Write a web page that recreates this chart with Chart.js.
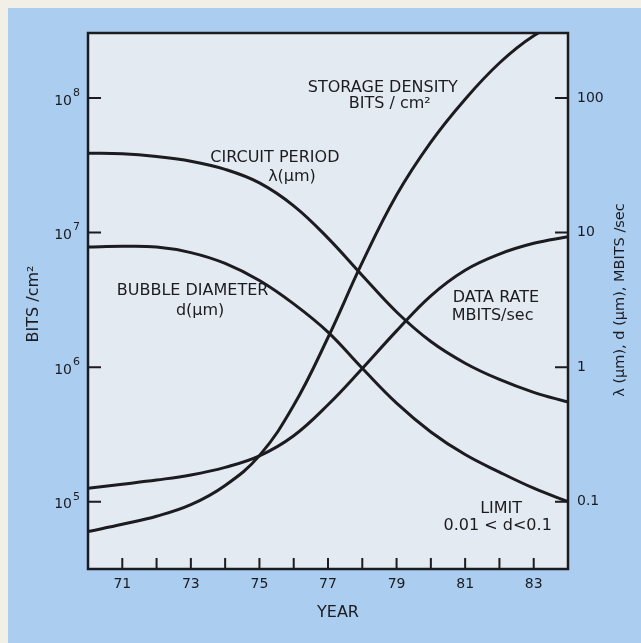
<!DOCTYPE html>
<html>
<head>
<meta charset="utf-8">
<script src="https://cdn.jsdelivr.net/npm/chart.js@4.4.1/dist/chart.umd.min.js"></script>
<style>
  html, body { margin: 0; padding: 0; background: #f2efe6; }
  canvas { display: block; }
</style>
</head>
<body>
<canvas id="chart" width="641" height="643"></canvas>
<script>
// Magnetic bubble memory trends, 1970-1984
const years = [70, 71, 72, 73, 74, 75, 76, 77, 78, 79, 80, 81, 82, 83, 84];

// left axis, bits per cm²
const storageDensity = [6.0e4, 6.8e4, 7.8e4, 9.5e4, 1.32e5, 2.2e5, 5.2e5, 1.66e6, 6.0e6, 1.9e7, 4.7e7, 9.8e7, 1.82e8, 2.9e8, 3.9e8];
// right axis, µm
const circuitPeriod = [38.9, 38.5, 36.7, 33.9, 29.5, 23.4, 15.8, 9.1, 4.8, 2.57, 1.55, 1.07, 0.81, 0.65, 0.55];
const bubbleDiameter = [7.8, 7.9, 7.8, 7.1, 5.9, 4.4, 2.95, 1.82, 0.98, 0.54, 0.33, 0.224, 0.166, 0.126, 0.100];
// right axis, Mbit/s
const dataRate = [0.126, 0.135, 0.145, 0.158, 0.180, 0.219, 0.309, 0.525, 0.977, 1.86, 3.39, 5.25, 6.92, 8.32, 9.33];

const yearTicks = [71, 72, 73, 74, 75, 76, 77, 78, 79, 80, 81, 82, 83];
const yearLabels = [71, 73, 75, 77, 79, 81, 83];
const leftTicks = [1e5, 1e6, 1e7, 1e8];
const leftTickExponents = ['5', '6', '7', '8'];
const rightTicks = [0.1, 1, 10, 100];
const rightTickLabels = ['0.1', '1', '10', '100'];

// curve captions, anchored in (year, bits/cm²)
const captions = [
  { text: 'STORAGE DENSITY', at: [78.6, 1.19e8] },
  { text: 'BITS / cm²', at: [78.8, 9.1e7] },
  { text: 'CIRCUIT PERIOD', at: [75.45, 3.6e7] },
  { text: 'λ(µm)', at: [75.95, 2.6e7] },
  { text: 'BUBBLE DIAMETER', at: [73.05, 3.7e6] },
  { text: 'd(µm)', at: [73.27, 2.6e6] },
  { text: 'DATA RATE', at: [81.9, 3.3e6] },
  { text: 'MBITS/sec', at: [81.8, 2.4e6] },
  { text: 'LIMIT', at: [82.05, 8.9e4] },
  { text: '0.01 < d<0.1', at: [81.95, 6.6e4] }
];

const FONT = "'DejaVu Sans', sans-serif";
const INK = '#1b1b20';

const toPoints = (vals) => vals.map((v, i) => ({ x: years[i], y: v }));

const curve = (label, vals, axis) => ({
  label,
  data: toPoints(vals),
  yAxisID: axis,
  borderColor: INK,
  borderWidth: 3,
  pointRadius: 0,
  tension: 0.4,
  fill: false
});

const paper = {
  id: 'paper',
  beforeDraw(chart) {
    const { ctx, width, height, chartArea: a } = chart;
    ctx.save();
    ctx.fillStyle = '#f2efe6';
    ctx.fillRect(0, 0, width, height);
    ctx.fillStyle = '#abcdf0';
    ctx.fillRect(8, 8, width - 8, height - 8);
    ctx.fillStyle = '#e4eaf1';
    ctx.fillRect(a.left, a.top, a.right - a.left, a.bottom - a.top);
    ctx.restore();
  },
  afterDraw(chart) {
    const { ctx, chartArea: a, scales } = chart;
    ctx.save();
    ctx.strokeStyle = INK;
    ctx.fillStyle = INK;

    // frame
    ctx.lineWidth = 2.5;
    ctx.strokeRect(a.left, a.top, a.right - a.left, a.bottom - a.top);

    // inward tick marks
    ctx.lineWidth = 2;
    ctx.beginPath();
    yearTicks.forEach(t => {
      const x = scales.x.getPixelForValue(t);
      ctx.moveTo(x, a.bottom);
      ctx.lineTo(x, a.bottom - 11);
    });
    leftTicks.forEach(t => {
      const y = scales.y.getPixelForValue(t);
      ctx.moveTo(a.left, y);
      ctx.lineTo(a.left + 13, y);
    });
    rightTicks.forEach(t => {
      const y = scales.y2.getPixelForValue(t);
      ctx.moveTo(a.right, y);
      ctx.lineTo(a.right - 13, y);
    });
    ctx.stroke();

    // powers of ten on the left axis
    ctx.textBaseline = 'middle';
    leftTicks.forEach((t, i) => {
      const y = scales.y.getPixelForValue(t);
      const x = a.left - 16;
      ctx.font = '14px ' + FONT;
      ctx.textAlign = 'right';
      ctx.fillText('10', x, y + 3);
      ctx.font = '11px ' + FONT;
      ctx.textAlign = 'left';
      ctx.fillText(leftTickExponents[i], x + 1, y - 5);
    });

    // captions
    ctx.font = '16px ' + FONT;
    ctx.textAlign = 'center';
    captions.forEach(c => {
      ctx.fillText(c.text, scales.x.getPixelForValue(c.at[0]), scales.y.getPixelForValue(c.at[1]));
    });

    // axis titles
    ctx.fillText('YEAR', 338, 613);

    ctx.save();
    ctx.translate(34, 304);
    ctx.rotate(-Math.PI / 2);
    ctx.fillText('BITS /cm²', 0, 0);
    ctx.restore();

    ctx.save();
    ctx.font = '14.5px ' + FONT;
    ctx.translate(620, 300);
    ctx.rotate(-Math.PI / 2);
    ctx.fillText('λ (µm), d (µm), MBITS /sec', 0, 0);
    ctx.restore();

    ctx.restore();
  }
};

const tickFont = { family: FONT, size: 14 };

new Chart(document.getElementById('chart'), {
  type: 'line',
  data: {
    datasets: [
      curve('Storage density', storageDensity, 'y'),
      curve('Circuit period', circuitPeriod, 'y2'),
      curve('Bubble diameter', bubbleDiameter, 'y2'),
      curve('Data rate', dataRate, 'y2')
    ]
  },
  options: {
    responsive: false,
    animation: false,
    layout: { padding: { top: 33, left: 0, right: 0, bottom: 0 } },
    plugins: {
      legend: { display: false },
      tooltip: { enabled: false }
    },
    scales: {
      x: {
        type: 'linear',
        min: 70,
        max: 84,
        grid: { display: false, drawTicks: false },
        border: { display: false },
        afterBuildTicks: (s) => { s.ticks = yearLabels.map(v => ({ value: v })); },
        afterFit: (s) => { s.height = 74; },
        ticks: { padding: 7, color: INK, font: tickFont, maxRotation: 0, autoSkip: false }
      },
      y: {
        type: 'logarithmic',
        position: 'left',
        bounds: 'data',
        min: Math.pow(10, 4.5),
        max: Math.pow(10, 8.483),
        grid: { display: false, drawTicks: false },
        border: { display: false },
        afterBuildTicks: (s) => { s.ticks = leftTicks.map(v => ({ value: v })); },
        afterFit: (s) => { s.width = 88; },
        ticks: { display: false }
      },
      y2: {
        type: 'logarithmic',
        position: 'right',
        bounds: 'data',
        min: Math.pow(10, -1.5),
        max: Math.pow(10, 2.483),
        grid: { display: false, drawTicks: false },
        border: { display: false },
        afterBuildTicks: (s) => { s.ticks = rightTicks.map(v => ({ value: v })); },
        afterFit: (s) => { s.width = 73; },
        ticks: {
          padding: 9,
          color: INK,
          font: tickFont,
          autoSkip: false,
          callback: (v) => rightTickLabels[rightTicks.indexOf(v)] ?? ''
        }
      }
    }
  },
  plugins: [paper]
});
</script>
</body>
</html>
